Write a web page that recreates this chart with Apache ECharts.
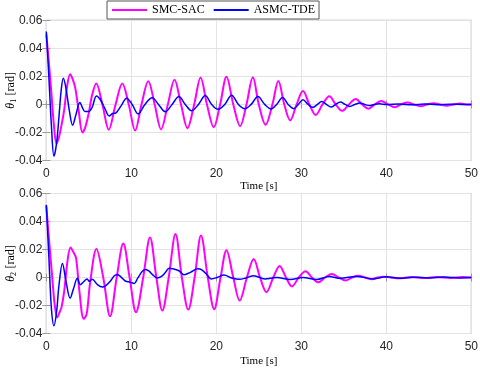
<!DOCTYPE html>
<html>
<head>
<meta charset="utf-8">
<script src="https://cdn.jsdelivr.net/npm/echarts@6/dist/echarts.min.js"></script>
<style>
html,body{margin:0;padding:0;background:#fff;}
#chart{width:480px;height:368px;}
</style>
</head>
<body>
<div id="chart"></div>
<script>
// ---- data (time [s], value [rad]) ----
var seriesNames = ['SMC-SAC', 'ASMC-TDE'];
var xTicks = [0, 10, 20, 30, 40, 50];
var yTicks = [-0.04, -0.02, 0, 0.02, 0.04, 0.06];

var theta1SMC = [
  [0,0.05],[0.3,0.03],[0.6,0.008],[0.9,-0.015],[1.2,-0.028],[1.5,-0.023],[1.75,-0.016],[2.1,-0.004],
  [2.45,0.013],[2.8,0.0215],[3.1,0.018],[3.4,0.012],[3.8,-0.004],[4.25,-0.02],[4.6,-0.016],[5.0,-0.006],
  [5.4,0.007],[5.87,0.015],[6.6,0],[7.35,-0.018],[8.15,0],[8.94,0.015],[9.7,0],[10.45,-0.0186],
  [11.2,0],[12.0,0.0165],[12.75,0],[13.5,-0.0178],[14.3,0],[15.08,0.0176],[15.85,0],[16.6,-0.017],
  [17.4,0],[18.15,0.0192],[18.9,0],[19.7,-0.0163],[20.45,0],[21.2,0.0197],[22.0,0],[22.8,-0.0155],
  [23.55,0],[24.3,0.0193],[25.0,0],[25.8,-0.0145],[26.6,0],[27.3,0.0167],[28.0,0],[28.7,-0.0113],
  [29.45,0],[30.2,0.0095],[30.95,0],[31.7,-0.0075],[32.5,0],[33.3,0.0058],[34.05,0],[34.8,-0.0046],
  [35.6,0],[36.4,0.0039],[37.15,0],[37.9,-0.003],[38.65,0],[39.4,0.0025],[40.2,0],[41.0,-0.002],
  [41.75,0],[42.5,0.0014],[43.25,0],[44.0,-0.0013],[44.8,0],[45.6,0.0009],[46.35,0],[47.1,-0.0009],
  [47.9,0],[48.7,0.0006],[49.4,0],[50,0]
];
var theta1ASMC = [
  [0,0.052],[0.3,0.02],[0.6,-0.015],[0.9,-0.037],[1.2,-0.028],[1.5,-0.008],[1.75,0.01],[2.0,0.0186],
  [2.3,0.012],[2.7,-0.004],[3.1,-0.0148],[3.5,-0.007],[3.95,0.0013],[4.3,-0.003],[4.55,-0.005],[5.0,-0.005],
  [5.4,-0.002],[5.9,0.006],[6.4,0.003],[6.9,-0.003],[7.4,-0.0082],[7.8,-0.0065],[8.2,-0.006],[8.8,-0.001],
  [9.45,0.0044],[10.1,0],[10.8,-0.0068],[11.6,0],[12.45,0.0048],[13.2,0],[14.0,-0.0052],[14.8,0],
  [15.6,0.0056],[16.35,0],[17.1,-0.0045],[17.9,0],[18.7,0.0064],[19.45,0],[20.2,-0.0035],[21.0,0],
  [21.8,0.0066],[22.6,0],[23.35,-0.003],[24.1,0],[24.9,0.0056],[25.7,0],[26.45,-0.0032],[27.1,0],
  [27.8,0.005],[28.45,0],[29.1,-0.003],[29.65,0],[30.2,0.0033],[30.8,0],[31.35,-0.0021],[31.9,0],
  [32.4,0.0021],[32.95,0],[33.5,-0.0019],[34.05,0],[34.6,0.0017],[35.15,0],[35.7,-0.0014],[36.3,0],
  [36.9,0.001],[37.45,0],[38.0,-0.0008],[38.6,0],[39.2,0.0004],[40,0],[41.5,0.0003],[43,-0.0003],
  [44.5,0.0003],[46,-0.0002],[47.5,0.0002],[49,0],[50,0]
];
var theta2SMC = [
  [0,0.051],[0.35,0.025],[0.7,0.0],[1.0,-0.02],[1.3,-0.0285],[1.55,-0.025],[1.8,-0.021],[2.1,-0.01],
  [2.5,0.012],[2.85,0.0215],[3.2,0.018],[3.5,0.014],[3.9,-0.01],[4.4,-0.0295],[4.75,-0.026],[5.15,-0.004],
  [5.9,0.0203],[6.7,0],[7.5,-0.0277],[8.28,0],[9.06,0.0243],[9.8,0],[10.55,-0.0248],[11.4,0],
  [12.2,0.0286],[12.95,0],[13.65,-0.0236],[14.4,0],[15.2,0.031],[15.95,0],[16.7,-0.0229],[17.45,0],
  [18.2,0.03],[19.0,0],[19.75,-0.0226],[20.5,0],[21.2,0.0195],[22.0,0],[22.75,-0.0165],[23.6,0],
  [24.4,0.0133],[25.15,0],[25.9,-0.0105],[26.7,0],[27.45,0.0083],[28.2,0],[28.9,-0.0064],[29.7,0],
  [30.5,0.0044],[31.25,0],[32.0,-0.0034],[32.8,0],[33.6,0.0025],[34.4,0],[35.2,-0.0022],[35.95,0],
  [36.7,0.0012],[37.5,0],[38.3,-0.0012],[39.0,0],[39.7,0.0006],[40.5,0],[41.4,-0.0006],[43,0.0004],
  [44.5,-0.0004],[46,0.0004],[47.5,-0.0003],[49,0.0003],[50,0]
];
var theta2ASMC = [
  [0,0.052],[0.3,0.015],[0.6,-0.022],[0.9,-0.0345],[1.2,-0.025],[1.5,-0.005],[1.9,0.01],[2.3,-0.002],
  [2.8,-0.0148],[3.2,-0.008],[3.65,-0.0005],[4.0,-0.0052],[4.4,-0.003],[4.8,-0.001],[5.05,-0.0027],[5.4,-0.0013],
  [6.0,-0.005],[6.6,-0.0068],[7.0,-0.0058],[7.55,-0.0025],[8.0,0.0012],[8.35,0.0022],[8.8,0.0003],[9.3,-0.0025],
  [9.85,-0.0033],[10.35,-0.0042],[10.75,-0.0005],[11.3,0.0045],[11.7,0.0057],[12.1,0.0045],[12.5,0.002],[13.05,-0.0003],
  [13.5,0.0006],[14.0,0.0035],[14.45,0.0066],[15.0,0.006],[15.6,0.0048],[16.2,0.002],[16.7,0.003],[17.2,0.0045],
  [17.8,0.0062],[18.3,0.0055],[18.9,0.002],[19.4,-0.001],[20.1,0],[20.9,0.0017],[21.8,-0.0003],[22.7,-0.0013],
  [23.5,-0.0003],[24.4,0.0013],[25.7,-0.001],[27.1,0],[28.7,-0.0015],[30.2,0],[31.8,-0.0015],[33.3,0.0007],
  [34.6,-0.0006],[36.5,0.0008],[38.5,-0.001],[40.0,0.0005],[41.6,-0.0006],[43.3,0.0002],[45,-0.0003],[46.8,0.0003],
  [48.5,-0.0003],[50,0]
];

// ---- styles ----
var colSMC = '#ff00ff', colASMC = '#0000ff';
var frame = '#9a9a9a', tickTxt = '#262626', gridCol = '#e3e3e3';
var sans = "'Liberation Sans', Arial, Helvetica, sans-serif";
var serif = "'Liberation Serif', 'Times New Roman', serif";

function yFmt(v){ return Math.abs(v) < 1e-9 ? '0' : v.toFixed(2); }

function xAxisMain(gi){
  return {
    type:'value', gridIndex:gi, min:xTicks[0], max:xTicks[xTicks.length-1], interval:10,
    name:'Time [s]', nameLocation:'middle', nameGap: gi===0 ? 20 : 22, nameMoveOverlap:false,
    nameTextStyle:{fontFamily:serif, fontSize:11, color:'#000'},
    axisLine:{show:false}, axisTick:{show:true, inside:true, length:4, lineStyle:{color:frame}},
    axisLabel:{margin:7, fontFamily:sans, fontSize:12, color:tickTxt},
    splitLine:{show:true, lineStyle:{color:gridCol, width:1}}
  };
}
function xAxisTop(gi){
  return {
    type:'value', gridIndex:gi, position:'top', min:0, max:50, interval:10,
    axisLine:{show:false}, axisTick:{show:true, inside:true, length:4, lineStyle:{color:frame}},
    axisLabel:{show:false}, splitLine:{show:false}
  };
}
function yAxisMain(gi, sub){
  return {
    type:'value', gridIndex:gi, min:yTicks[0], max:yTicks[yTicks.length-1], interval:0.02,
    name:'{i|θ}{s|' + sub + '} {n|[rad]}', nameLocation:'middle', nameGap:28, nameMoveOverlap:false,
    nameTextStyle:{
      color:'#000',
      rich:{
        i:{fontFamily:serif, fontStyle:'italic', fontSize:12, color:'#000'},
        s:{fontFamily:serif, fontSize:8, color:'#000', padding:[6,0,0,0]},
        n:{fontFamily:serif, fontSize:12, color:'#000'}
      }
    },
    axisLine:{show:false}, axisTick:{show:true, inside:true, length:4, lineStyle:{color:frame}},
    axisLabel:{margin:4, fontFamily:sans, fontSize:12, color:tickTxt, formatter:yFmt},
    splitLine:{show:true, lineStyle:{color:gridCol, width:1}}
  };
}
function yAxisRight(gi){
  return {
    type:'value', gridIndex:gi, position:'right', min:-0.04, max:0.06, interval:0.02,
    axisLine:{show:false}, axisTick:{show:true, inside:true, length:4, lineStyle:{color:frame}},
    axisLabel:{show:false}, splitLine:{show:false}
  };
}
function line(name, data, xi, yi, color, w, z){
  return {
    name:name, type:'line', xAxisIndex:xi, yAxisIndex:yi, data:data,
    symbol:'none', smooth:0.35, z:z,
    lineStyle:{color:color, width:w}, itemStyle:{color:color}
  };
}

var chart = echarts.init(document.getElementById('chart'), null, {renderer:'canvas'});
chart.setOption({
  backgroundColor:'#fff',
  animation:false,
  legend:{
    data:[{name:seriesNames[0], icon:'rect'}, {name:seriesNames[1], icon:'rect'}],
    left:107, top:1, orient:'horizontal',
    itemWidth:35, itemHeight:2, itemGap:9, padding:[3,4,3,5],
    backgroundColor:'#fff', borderColor:'#555', borderWidth:1,
    textStyle:{fontFamily:serif, fontSize:12, color:'#000'}, z:10
  },
  grid:[
    {left:46.3, right:8.7, top:20.3, height:140.2, show:true, borderColor:frame, borderWidth:1,
     backgroundColor:'transparent', containLabel:false, outerBoundsMode:'none'},
    {left:46.3, right:8.7, top:193.5, height:140, show:true, borderColor:frame, borderWidth:1,
     backgroundColor:'transparent', containLabel:false, outerBoundsMode:'none'}
  ],
  xAxis:[xAxisMain(0), xAxisTop(0), xAxisMain(1), xAxisTop(1)],
  yAxis:[yAxisMain(0,'1'), yAxisRight(0), yAxisMain(1,'2'), yAxisRight(1)],
  series:[
    line(seriesNames[0], theta1SMC, 0, 0, colSMC, 2, 2),
    line(seriesNames[1], theta1ASMC, 0, 0, colASMC, 1.5, 3),
    line(seriesNames[0], theta2SMC, 2, 2, colSMC, 2, 2),
    line(seriesNames[1], theta2ASMC, 2, 2, colASMC, 1.5, 3)
  ]
});
</script>
</body>
</html>
